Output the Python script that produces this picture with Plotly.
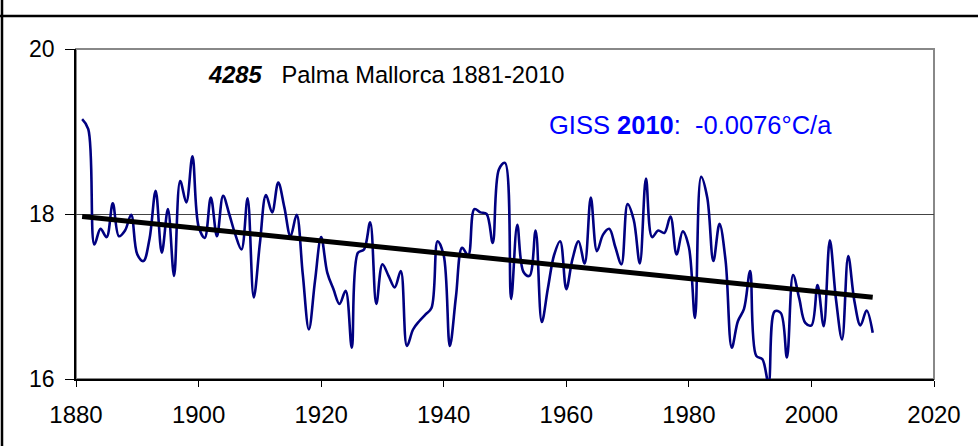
import plotly.graph_objects as go

years = list(range(1881, 2011))
temps = [
    19.15, 19.03, 17.63, 17.82, 17.72, 18.13, 17.73, 17.80, 17.99, 17.51,  # 1881-1890
    17.43, 17.70, 18.28, 17.53, 18.06, 17.25, 18.40, 18.14, 18.70, 17.85,  # 1891-1900
    17.71, 18.20, 17.73, 18.22, 18.00, 17.75, 17.57, 18.19, 16.99, 17.64,  # 1901-1910
    18.23, 18.02, 18.38, 18.08, 17.73, 17.99, 17.27, 16.60, 17.19, 17.72,  # 1911-1920
    17.29, 17.09, 16.91, 17.07, 16.38, 17.53, 17.57, 17.90, 16.91, 17.39,  # 1921-1930
    17.25, 17.11, 17.31, 16.40, 16.60, 16.70, 16.78, 16.86, 17.67, 17.50,  # 1931-1940
    16.40, 17.00, 17.59, 17.50, 18.06, 18.02, 18.00, 17.65, 18.54, 18.62,  # 1941-1950
    16.97, 17.87, 17.30, 17.25, 17.80, 16.69, 17.10, 17.50, 17.67, 17.09,  # 1951-1960
    17.45, 17.67, 17.40, 18.20, 17.55, 17.75, 17.82, 17.60, 17.39, 18.12,  # 1961-1970
    17.93, 17.40, 18.43, 17.72, 17.80, 17.77, 17.97, 17.51, 17.79, 17.60,  # 1971-1980
    16.74, 18.45, 18.20, 17.43, 17.88, 17.43, 16.38, 16.70, 16.85, 17.31,  # 1981-1990
    16.28, 16.24, 15.95, 16.82, 16.80, 16.26, 17.26, 16.98, 16.68, 16.65,  # 1991-2000
    17.14, 16.64, 17.68, 16.97, 16.48, 17.49, 16.95, 16.65, 16.83, 16.56,  # 2001-2010
]
trend_years = [1881, 2010]
trend_vals = [17.97, 16.99]

x_ticks = [1880, 1900, 1920, 1940, 1960, 1980, 2000, 2020]
y_ticks = [16, 18, 20]

station_id = "4285"
station_title = "Palma Mallorca 1881-2010"
giss_label = "GISS"
giss_year = "2010"
giss_rate = "-0.0076°C/a"

FONT = "Liberation Sans, Arial, sans-serif"

fig = go.Figure()
fig.add_trace(go.Scatter(
    x=years, y=temps, mode="lines",
    line=dict(color="#000080", width=2.6, shape="spline", smoothing=1.0),
    hoverinfo="skip", showlegend=False, cliponaxis=True,
))
fig.add_trace(go.Scatter(
    x=trend_years, y=trend_vals, mode="lines",
    line=dict(color="#000000", width=5),
    hoverinfo="skip", showlegend=False,
))

W, H = 978, 446
L, R, T, B = 76, 44, 49, 67
pw, ph = W - L - R, H - T - B

def px(xp):
    return (xp - L) / pw

def py(yp):
    return (H - B - yp) / ph

fig.update_layout(
    width=W, height=H,
    margin=dict(l=L, r=R, t=T, b=B, pad=0),
    paper_bgcolor="white", plot_bgcolor="white",
    font=dict(family=FONT, size=23, color="black"),
    xaxis=dict(
        range=[1880, 2020], tickvals=x_ticks, ticktext=[str(v) for v in x_ticks],
        showgrid=False, zeroline=False,
        showline=True, linecolor="black", linewidth=1.5,
        ticks="outside", ticklen=6, tickwidth=1, tickcolor="black",
        ticklabelstandoff=7, tickfont=dict(family=FONT, size=24, color="black"),
    ),
    yaxis=dict(
        range=[16, 20], tickvals=y_ticks, ticktext=[str(v) for v in y_ticks],
        showgrid=True, gridcolor="#444444", gridwidth=1, zeroline=False,
        showline=True, linecolor="black", linewidth=1.5,
        ticks="outside", ticklen=9, tickwidth=1, tickcolor="black",
        ticklabelstandoff=6, tickfont=dict(family=FONT, size=23, color="black"),
    ),
    shapes=[
        dict(type="rect", xref="paper", yref="paper", x0=0, x1=1, y0=0, y1=1,
             line=dict(color="#888888", width=2), layer="below"),
        dict(type="line", xref="paper", yref="paper", x0=px(0), x1=px(W), y0=py(16), y1=py(16),
             line=dict(color="black", width=2.5)),
        dict(type="line", xref="paper", yref="paper", x0=px(2), x1=px(2), y0=py(0), y1=py(H),
             line=dict(color="black", width=2.5)),
    ],
    annotations=[
        dict(xref="paper", yref="paper", x=px(206), y=py(75), xanchor="left", yanchor="middle",
             showarrow=False,
             text=f"<b><i>{station_id}</i></b>\u00a0\u00a0\u00a0{station_title}",
             font=dict(family=FONT, size=23.7, color="black")),
        dict(xref="paper", yref="paper", x=px(547), y=py(125), xanchor="left", yanchor="middle",
             showarrow=False,
             text=f"{giss_label} <b>{giss_year}</b>:\u00a0\u00a0{giss_rate}",
             font=dict(family=FONT, size=25.5, color="#0000FF")),
    ],
)

fig.write_html("out.html", config={"displayModeBar": False},
               post_script="document.body.style.margin='0';")
